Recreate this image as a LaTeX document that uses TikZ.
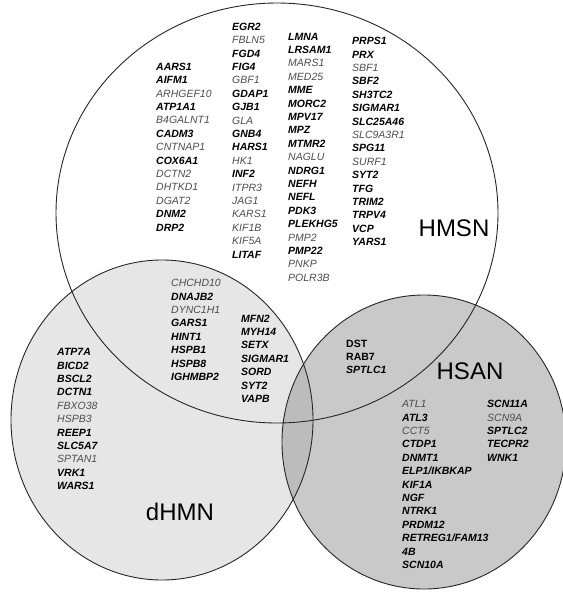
\documentclass[tikz,border=0pt]{standalone}
\usepackage{fontspec}
\setmainfont{Liberation Sans}

\definecolor{ungray}{HTML}{4D4D4D}
\definecolor{dhmnfill}{HTML}{E6E6E6}
\definecolor{hsanfill}{HTML}{C9C9C9}
\definecolor{lensfill}{HTML}{BCBCBC}

% known (bold) and uncertain (plain grey) genes
\newcommand{\kg}[1]{\textbf{#1}}
\newcommand{\ug}[1]{\textcolor{ungray}{#1}}

\tikzset{
  genes/.style={anchor=north west, inner sep=0pt, align=left,
    font=\fontsize{10.5}{13.4}\selectfont\itshape},
  setname/.style={inner sep=0pt, font=\fontsize{24}{28}\selectfont},
  ring/.style={line width=0.9pt, draw=black!85},
}

\begin{document}
\begin{tikzpicture}[x=1pt, y=-1pt]

\useasboundingbox (0,0) rectangle (562,594);

%\draw[help lines, step=10] (0,0) grid (562,594);

\coordinate (hmsn) at (277,213);
\coordinate (dhmn) at (162,420);
\coordinate (hsan) at (424,442);

% fills
\fill[white] (hmsn) ellipse[x radius=221pt, y radius=210pt];
\fill[dhmnfill] (dhmn) ellipse[x radius=151pt, y radius=160pt];
\fill[hsanfill] (hsan) ellipse[x radius=142pt, y radius=147pt];
\begin{scope}
  \clip (dhmn) ellipse[x radius=151pt, y radius=160pt];
  \fill[lensfill] (hsan) ellipse[x radius=142pt, y radius=147pt];
\end{scope}

% outlines
\draw[ring] (hmsn) ellipse[x radius=221pt, y radius=210pt];
\draw[ring] (dhmn) ellipse[x radius=151pt, y radius=160pt];
\draw[ring] (hsan) ellipse[x radius=142pt, y radius=147pt];

% HMSN only
\node[genes] (hmsnA) at (156,62.7) {\kg{AARS1}\\ \kg{AIFM1}\\ \ug{ARHGEF10}\\ \kg{ATP1A1}\\
  \ug{B4GALNT1}\\ \kg{CADM3}\\ \ug{CNTNAP1}\\ \kg{COX6A1}\\ \ug{DCTN2}\\ \ug{DHTKD1}\\
  \ug{DGAT2}\\ \kg{DNM2}\\ \kg{DRP2}};
\node[genes] (hmsnB) at (232,22.7) {\kg{EGR2}\\ \ug{FBLN5}\\ \kg{FGD4}\\ \kg{FIG4}\\
  \ug{GBF1}\\ \kg{GDAP1}\\ \kg{GJB1}\\ \ug{GLA}\\ \kg{GNB4}\\ \kg{HARS1}\\ \ug{HK1}\\
  \kg{INF2}\\ \ug{ITPR3}\\ \ug{JAG1}\\ \ug{KARS1}\\ \ug{KIF1B}\\ \ug{KIF5A}\\ \kg{LITAF}};
\node[genes] (hmsnC) at (288,32.7) {\kg{LMNA}\\ \kg{LRSAM1}\\ \ug{MARS1}\\ \ug{MED25}\\
  \kg{MME}\\ \kg{MORC2}\\ \kg{MPV17}\\ \kg{MPZ}\\ \kg{MTMR2}\\ \ug{NAGLU}\\ \kg{NDRG1}\\
  \kg{NEFH}\\ \kg{NEFL}\\ \kg{PDK3}\\ \kg{PLEKHG5}\\ \ug{PMP2}\\ \kg{PMP22}\\ \ug{PNKP}\\
  \ug{POLR3B}};
\node[genes] (hmsnD) at (352,37.2) {\kg{PRPS1}\\ \kg{PRX}\\ \ug{SBF1}\\ \kg{SBF2}\\
  \kg{SH3TC2}\\ \kg{SIGMAR1}\\ \kg{SLC25A46}\\ \ug{SLC9A3R1}\\ \kg{SPG11}\\ \ug{SURF1}\\
  \kg{SYT2}\\ \kg{TFG}\\ \kg{TRIM2}\\ \kg{TRPV4}\\ \kg{VCP}\\ \kg{YARS1}};

% HMSN and dHMN
\node[genes] (bothA) at (171,279.2) {\ug{CHCHD10}\\ \kg{DNAJB2}\\ \ug{DYNC1H1}\\ \kg{GARS1}\\
  \kg{HINT1}\\ \kg{HSPB1}\\ \kg{HSPB8}\\ \kg{IGHMBP2}};
\node[genes] (bothB) at (241,314.5) {\kg{MFN2}\\ \kg{MYH14}\\ \kg{SETX}\\ \kg{SIGMAR1}\\
  \kg{SORD}\\ \kg{SYT2}\\ \kg{VAPB}};

% dHMN only
\node[genes] (dhmnA) at (57,348.2) {\kg{ATP7A}\\ \kg{BICD2}\\ \kg{BSCL2}\\ \kg{DCTN1}\\
  \ug{FBXO38}\\ \ug{HSPB3}\\ \kg{REEP1}\\ \kg{SLC5A7}\\ \ug{SPTAN1}\\ \kg{VRK1}\\ \kg{WARS1}};

% HMSN and HSAN
\node[genes] (shared) at (346,339.5) {\textup{\kg{DST}}\\ \textup{\kg{RAB7}}\\ \kg{SPTLC1}};

% HSAN only
\node[genes] (hsanA) at (402,400.2) {\ug{ATL1}\\ \kg{ATL3}\\ \ug{CCT5}\\ \kg{CTDP1}\\
  \kg{DNMT1}\\ \kg{ELP1/IKBKAP}\\ \kg{KIF1A}\\ \kg{NGF}\\ \kg{NTRK1}\\ \kg{PRDM12}\\
  \kg{RETREG1/FAM13}\\ \kg{4B}\\ \kg{SCN10A}};
\node[genes] (hsanB) at (487,400.2) {\kg{SCN11A}\\ \ug{SCN9A}\\ \kg{SPTLC2}\\ \kg{TECPR2}\\
  \kg{WNK1}};

% set names
\node[setname] (hmsnlabel) at (454,228) {HMSN};
\node[setname] (dhmnlabel) at (180,512) {dHMN};
\node[setname] (hsanlabel) at (470,371) {HSAN};

\end{tikzpicture}
\end{document}
